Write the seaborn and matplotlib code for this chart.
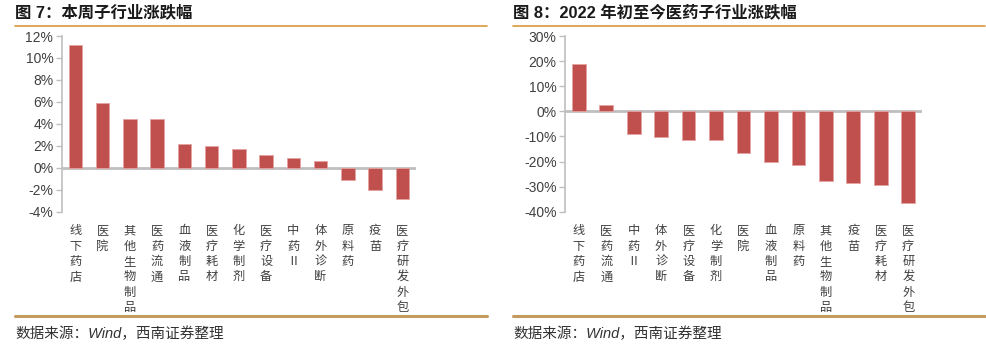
import matplotlib
matplotlib.use("Agg")
import matplotlib.pyplot as plt
import seaborn as sns
import pandas as pd
from matplotlib.lines import Line2D
from matplotlib.ticker import FuncFormatter

sns.set_style("white")
plt.rcParams['font.family'] = ['Liberation Sans', 'Noto Sans CJK SC', 'DejaVu Sans']

# ---- data ----
week_cats = ["线下药店", "医院", "其他生物制品", "医药流通", "血液制品", "医疗耗材",
             "化学制剂", "医疗设备", "中药Ⅱ", "体外诊断", "原料药", "疫苗", "医疗研发外包"]
week_vals = [11.15, 5.9, 4.42, 4.42, 2.2, 1.98, 1.72, 1.14, 0.92, 0.58, -1.12, -1.98, -2.8]
week_ticks = [-4, -2, 0, 2, 4, 6, 8, 10, 12]

ytd_cats = ["线下药店", "医药流通", "中药Ⅱ", "体外诊断", "医疗设备", "化学制剂", "医院",
            "血液制品", "原料药", "其他生物制品", "疫苗", "医疗耗材", "医疗研发外包"]
ytd_vals = [19.0, 2.7, -9.1, -10.1, -11.3, -11.3, -16.8, -20.3, -21.3, -27.6, -28.5, -29.3, -36.7]
ytd_ticks = [-40, -30, -20, -10, 0, 10, 20, 30]

title_left = "图 7：本周子行业涨跌幅"
title_right = "图 8：2022 年初至今医药子行业涨跌幅"
source = "数据来源：Wind，西南证券整理"

BAR = "#C0504D"
GREY = "#BFBFBF"
TXT = "#404040"

fig = plt.figure(figsize=(9.86, 3.49), dpi=100)
W, H = 986, 349


def px_axes(x0, x1, ytop, ybot):
    return fig.add_axes([x0 / W, 1 - ybot / H, (x1 - x0) / W, (ybot - ytop) / H])


def draw(ax, cats, vals, ticks):
    df = pd.DataFrame({"cat": cats, "val": vals})
    sns.barplot(data=df, x="cat", y="val", order=cats, color=BAR, width=0.5,
                saturation=1, ax=ax, edgecolor="#E3A3A1", linewidth=0.6)
    ax.set_xlim(-0.5, len(cats) - 0.5)
    ax.set_ylim(ticks[0], ticks[-1])
    ax.set_yticks(ticks)
    ax.yaxis.set_major_formatter(FuncFormatter(lambda v, p: f"{int(v)}%"))
    ax.set_xlabel("")
    ax.set_ylabel("")
    for s in ["top", "right", "bottom"]:
        ax.spines[s].set_visible(False)
    ax.spines["left"].set_color(GREY)
    ax.spines["left"].set_linewidth(1.2)
    ax.axhline(0, color=GREY, lw=2, zorder=0.5)
    ax.tick_params(axis="y", direction="out", length=4, width=1, color=GREY,
                   labelsize=10, labelcolor=TXT, pad=2, left=True)
    ax.set_xticks(range(len(cats)))
    ax.set_xticklabels(["\n".join(c) for c in cats], family=["Noto Sans CJK SC"],
                       fontsize=8.8, color=TXT, linespacing=1.24, va="top")
    ax.tick_params(axis="x", length=0, pad=9)
    ax.grid(False)


ax1 = px_axes(61.7, 416, 36, 211.7)
draw(ax1, week_cats, week_vals, week_ticks)
ax2 = px_axes(565, 922, 36, 211.7)
draw(ax2, ytd_cats, ytd_vals, ytd_ticks)

# titles, rules, sources
for x0, x1, t in [(15, 487, title_left), (513, 985, title_right)]:
    fig.text(x0 / W, 1 - 12 / H, t, fontsize=11.8, fontweight="bold", color="#1a1a1a",
             va="center", ha="left", family=["Liberation Sans", "Noto Sans CJK SC"])
    fig.add_artist(Line2D([x0 / W, x1 / W], [1 - 26 / H, 1 - 26 / H],
                          color="#D99A3E", lw=1.2, transform=fig.transFigure))
    fig.add_artist(Line2D([x0 / W, x1 / W], [1 - 316 / H, 1 - 316 / H],
                          color="#C49A5E", lw=2.2, transform=fig.transFigure))
    fig.text(x0 / W, 1 - 334 / H, source, fontsize=10.5, style="italic", color="#333333",
             va="center", ha="left", family=["Liberation Sans", "Noto Sans CJK SC"])

fig.savefig("out.png", dpi=100)
